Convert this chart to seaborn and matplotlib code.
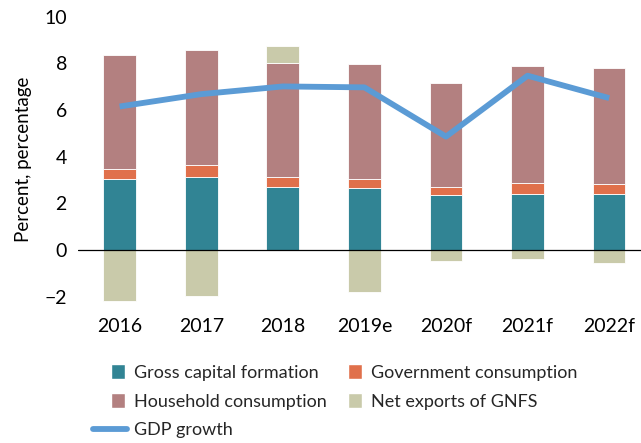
import numpy as np
import pandas as pd
import seaborn as sns
import matplotlib
matplotlib.use("Agg")
import matplotlib.pyplot as plt
from matplotlib import font_manager
from matplotlib.patches import Patch, Rectangle
from matplotlib.lines import Line2D
from matplotlib.legend_handler import HandlerPatch

years = ["2016", "2017", "2018", "2019e", "2020f", "2021f", "2022f"]
gross_capital = [3.05, 3.15, 2.70, 2.66, 2.36, 2.42, 2.42]
government = [0.44, 0.51, 0.45, 0.39, 0.36, 0.47, 0.41]
household = [4.88, 4.92, 4.88, 4.93, 4.42, 4.98, 4.98]
net_exports = [-2.19, -1.96, 0.73, -1.82, -0.46, -0.40, -0.57]
gdp_growth = [6.15, 6.68, 7.01, 6.97, 4.86, 7.47, 6.51]
yticks = [-2, 0, 2, 4, 6, 8, 10]

C_GCF = "#318494"
C_GOV = "#E0704B"
C_HH = "#B38080"
C_NX = "#C9CAAA"
C_GDP = "#5B9BD5"

sns.set_theme(style="white")
available = {f.name for f in font_manager.fontManager.ttflist}
family = "Liberation Sans Narrow" if "Liberation Sans Narrow" in available else "Lato"
plt.rcParams["font.family"] = [family, "DejaVu Sans"]

df = pd.DataFrame({
    "year": years,
    "gcf": gross_capital,
    "gov": government,
    "hh": household,
    "nx": net_exports,
    "gdp": gdp_growth,
})
df["gov_base"] = df["gcf"]
df["hh_base"] = df["gcf"] + df["gov"]
df["nx_base"] = np.where(df["nx"] > 0, df["hh_base"] + df["hh"], 0.0)

fig = plt.figure(figsize=(6.41, 4.43), dpi=100)
ax = fig.add_axes([78 / 641, 1 - 306 / 443, 1 - 78 / 641, (306 - 12) / 443])

bar_kw = dict(width=0.4, edgecolor="white", linewidth=0.6, saturation=1, ax=ax)
sns.barplot(data=df, x="year", y="gcf", color=C_GCF, **bar_kw)
sns.barplot(data=df, x="year", y="gov", bottom=df["gov_base"].values, color=C_GOV, **bar_kw)
sns.barplot(data=df, x="year", y="hh", bottom=df["hh_base"].values, color=C_HH, **bar_kw)
sns.barplot(data=df, x="year", y="nx", bottom=df["nx_base"].values, color=C_NX, **bar_kw)

sns.lineplot(x=np.arange(len(years)), y=df["gdp"].values, color=C_GDP,
             linewidth=4.2, ax=ax, solid_capstyle="butt", legend=False)

ax.axhline(0, color="black", linewidth=0.9, zorder=5)
ax.set_xlim(-0.51, 6.39)
ax.set_ylim(-2.4, 10.2)
ax.set_yticks(yticks)
ax.set_yticklabels([f"{v}".replace("-", "\u2212") for v in yticks])
ax.tick_params(axis="both", length=0, labelsize=14, colors="black")
ax.tick_params(axis="y", pad=8)
ax.tick_params(axis="x", pad=9)
ax.set_xlabel("")
ax.set_ylabel("Percent, percentage", fontsize=13.5, color="black", labelpad=9)
for s in ax.spines.values():
    s.set_visible(False)


def square_patch(legend, orig_handle, xdescent, ydescent, width, height, fontsize):
    size = 10.5
    return Rectangle((-xdescent + width - size - 1.5, -ydescent + (height - size) / 2),
                     size, size)


h_gcf = Patch(facecolor=C_GCF, label="Gross capital formation")
h_gov = Patch(facecolor=C_GOV, label="Government consumption")
h_hh = Patch(facecolor=C_HH, label="Household consumption")
h_nx = Patch(facecolor=C_NX, label="Net exports of GNFS")
h_gdp = Line2D([], [], color=C_GDP, linewidth=4.2, label="GDP growth")

handles = [h_gcf, h_hh, h_gdp, h_gov, h_nx]
leg = fig.legend(handles=handles, labels=[h.get_label() for h in handles],
                 ncol=2, loc="upper left", bbox_to_anchor=(93 / 641, 1 - 365 / 443),
                 frameon=False, fontsize=13, handlelength=1.9, handletextpad=0.35,
                 columnspacing=0.2, labelspacing=0.7, borderpad=0, borderaxespad=0,
                 handler_map={Patch: HandlerPatch(patch_func=square_patch)})

fig.savefig("out.png", dpi=100)
